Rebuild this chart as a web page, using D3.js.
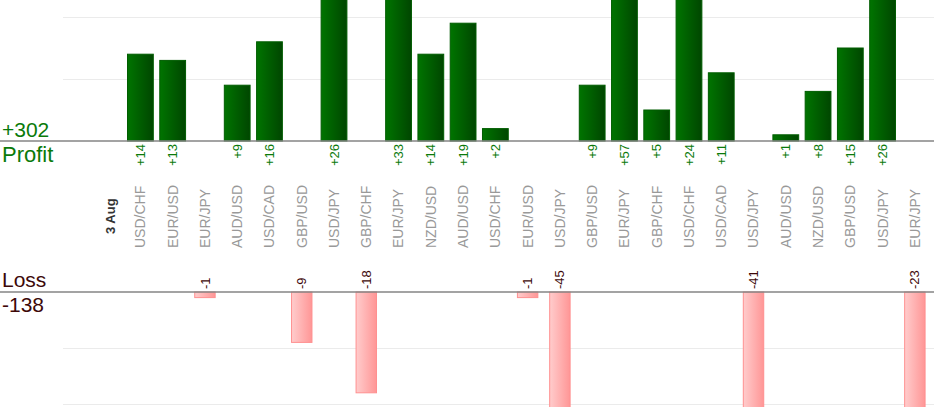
<!DOCTYPE html>
<html lang="en">
<head>
    <meta charset="UTF-8">
    <title>Profit / Loss by pair</title>
    <script src="https://d3js.org/d3.v7.min.js"></script>
    <style>
        body { margin: 0; background: #fff; }
        svg { display: block; font-family: "Liberation Sans", Arial, sans-serif; }
    </style>
</head>
<body>
<svg width="934" height="420"></svg>
<script>

    // data ================================================================
    const dateLabel = "3 Aug";
    const pairs = ["USD/CHF", "EUR/USD", "EUR/JPY", "AUD/USD", "USD/CAD", "GBP/USD", "USD/JPY",
        "GBP/CHF", "EUR/JPY", "NZD/USD", "AUD/USD", "USD/CHF", "EUR/USD", "USD/JPY", "GBP/USD",
        "EUR/JPY", "GBP/CHF", "USD/CHF", "USD/CAD", "USD/JPY", "AUD/USD", "NZD/USD", "GBP/USD",
        "USD/JPY", "EUR/JPY"];
    const pips = [14, 13, -1, 9, 16, -9, 26, -18, 33, 14, 19, 2, -1, -45, 9, 57, 5, 24, 11, -41,
        1, 8, 15, 26, -23];
    const profitGrid = [10, 20];
    const lossGrid = [-10, -20];

    const width = 934;
    const svg = d3.select("svg");

    const rows = pairs.map((p, i) => ({i: i + 1, pair: p, v: pips[i]}));
    const profits = rows.filter(d => d.v > 0);
    const losses = rows.filter(d => d.v < 0);

    // slot 0 holds the date, pairs follow
    const x = d3.scaleBand()
        .domain(d3.range(pairs.length + 1))
        .range([92, 931])
        .paddingInner(0.17)
        .paddingOuter(0.085);

    const yProfit = d3.scaleLinear().domain([0, 20]).range([141, 17]);
    const yLoss = d3.scaleLinear().domain([0, -20]).range([292, 404]);

    // gradients
    const defs = svg.append("defs");
    const gGreen = defs.append("linearGradient").attr("id", "gGreen");
    gGreen.append("stop").attr("offset", "0%").attr("stop-color", "#007400");
    gGreen.append("stop").attr("offset", "100%").attr("stop-color", "#004600");
    const gRed = defs.append("linearGradient").attr("id", "gRed");
    gRed.append("stop").attr("offset", "0%").attr("stop-color", "#ffcccc");
    gRed.append("stop").attr("offset", "100%").attr("stop-color", "#ff9696");
    defs.append("clipPath").attr("id", "lossClip")
        .append("rect").attr("x", 0).attr("y", 280).attr("width", width).attr("height", 127);

    // grid lines
    svg.append("g").selectAll("line")
        .data(profitGrid.map(yProfit).concat(lossGrid.map(yLoss)))
        .join("line")
        .attr("x1", 63).attr("x2", width)
        .attr("y1", d => d + 0.5).attr("y2", d => d + 0.5)
        .attr("stroke", "#ebebeb");

    // profit bars
    svg.append("g").selectAll("rect")
        .data(profits)
        .join("rect")
        .attr("x", d => x(d.i) + 0.5)
        .attr("width", x.bandwidth() - 1)
        .attr("y", d => yProfit(d.v))
        .attr("height", d => yProfit(0) - yProfit(d.v))
        .attr("fill", "url(#gGreen)")
        .attr("stroke", "#005c00");

    // loss bars (narrower)
    const lw = x.bandwidth() * 0.8;
    svg.append("g").attr("clip-path", "url(#lossClip)").selectAll("rect")
        .data(losses)
        .join("rect")
        .attr("x", d => x(d.i) + (x.bandwidth() - lw) / 2 + 0.5)
        .attr("width", lw - 1)
        .attr("y", yLoss(0))
        .attr("height", d => yLoss(d.v) - yLoss(0))
        .attr("fill", "url(#gRed)")
        .attr("stroke", "#ff9090");

    // base lines
    svg.append("g").selectAll("line")
        .data([yProfit(0), yLoss(0)])
        .join("line")
        .attr("x1", 0).attr("x2", width)
        .attr("y1", d => d).attr("y2", d => d)
        .attr("stroke", "#858585")
        .attr("stroke-width", 1.4);

    const cx = i => x(i) + x.bandwidth() / 2;

    // value labels
    svg.append("g").selectAll("text")
        .data(profits)
        .join("text")
        .attr("transform", d => `translate(${cx(d.i)},144) rotate(-90)`)
        .attr("dy", "0.35em")
        .attr("text-anchor", "end")
        .attr("font-size", 13)
        .attr("fill", "#0a7a0a")
        .text(d => "+" + d.v);

    svg.append("g").selectAll("text")
        .data(losses)
        .join("text")
        .attr("transform", d => `translate(${cx(d.i)},289) rotate(-90)`)
        .attr("dy", "0.35em")
        .attr("text-anchor", "start")
        .attr("font-size", 13)
        .attr("fill", "#3d0808")
        .text(d => d.v);

    // category labels
    svg.append("g").selectAll("text")
        .data(rows)
        .join("text")
        .attr("transform", d => `translate(${cx(d.i)},248) rotate(-90)`)
        .attr("dy", "0.35em")
        .attr("font-size", 14)
        .attr("fill", "#999")
        .text(d => d.pair);

    svg.append("text")
        .attr("transform", `translate(${cx(0) + 2},234) rotate(-90)`)
        .attr("dy", "0.35em")
        .attr("font-size", 13)
        .attr("font-weight", "bold")
        .attr("fill", "#333")
        .text(dateLabel);

    // totals
    const totalProfit = d3.sum(profits, d => d.v);
    const totalLoss = d3.sum(losses, d => d.v);

    svg.append("text").attr("x", 2).attr("y", 137).attr("font-size", 21)
        .attr("fill", "#0a7a0a").text("+" + totalProfit);
    svg.append("text").attr("x", 2).attr("y", 162).attr("font-size", 22)
        .attr("fill", "#0a7a0a").text("Profit");
    svg.append("text").attr("x", 2).attr("y", 287).attr("font-size", 21)
        .attr("fill", "#3d0808").text("Loss");
    svg.append("text").attr("x", 2).attr("y", 312).attr("font-size", 21)
        .attr("fill", "#3d0808").text(totalLoss);

</script>
</body>
</html>
